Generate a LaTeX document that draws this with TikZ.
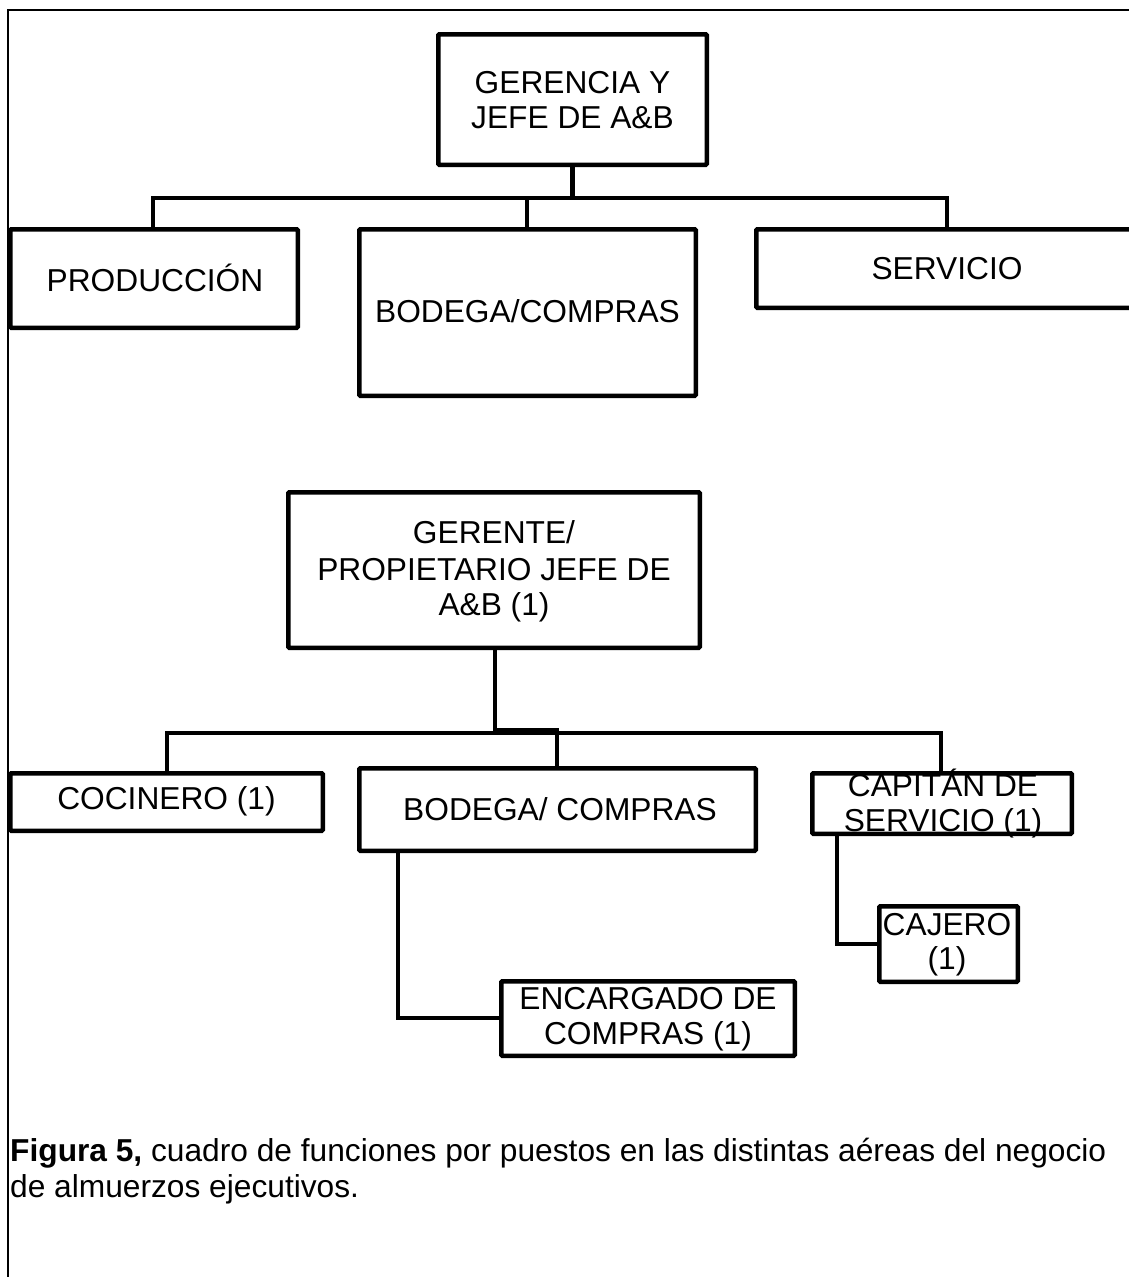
\documentclass[tikz,border=0pt]{standalone}
\usepackage{fontspec}
\setmainfont{Liberation Sans}
\begin{document}
\begin{tikzpicture}[x=1pt,y=-1pt,
  box/.style={draw, line width=4.5pt, inner sep=0pt, rounded corners=1pt},
  txt/.style={font=\fontsize{31.7}{34.5}\selectfont, align=center, inner sep=0pt},
  conn/.style={line width=4.5pt, line join=miter},
  frame/.style={line width=2pt}]
\useasboundingbox (0,0) rectangle (1129,1277);
\clip (0,0) rectangle (1129,1277);
\fill[white] (0,0) rectangle (1129,1277);
\draw[frame] (8,10) rectangle (1160,1300);

% ---------- first chart ----------
\node[box, minimum width=268.5pt, minimum height=130.5pt] (ger1) at (572.5,99.5) {};
\node[txt] (ger1t) at (572.5,100) {GERENCIA Y\\JEFE DE A\&B};
\node[box, minimum width=287.5pt, minimum height=98.5pt] (prod) at (154,278.5) {};
\node[txt] (prodt) at (155,278) {PRODUCCIÓN};
\node[box, minimum width=336.5pt, minimum height=166.5pt] (bod1) at (527.5,312.5) {};
\node[txt] (bod1t) at (527.5,311) {BODEGA/COMPRAS};
\node[box, minimum width=381.5pt, minimum height=78.5pt] (serv) at (947,268.5) {};
\node[txt] (servt) at (947,269) {SERVICIO};

\coordinate (j1) at (572.5,198);
\coordinate (d1) at (153,198);
\coordinate (d2) at (527,198);
\coordinate (d3) at (947,198);
\draw[conn] (ger1.south) -- (j1);
\draw[conn] (d1 |- prod.north) -- (d1) -- (d3) -- (d3 |- serv.north);
\draw[conn] (d2) -- (d2 |- bod1.north);

% ---------- second chart ----------
\node[box, minimum width=411.5pt, minimum height=155.5pt] (ger2) at (494,570) {};
\node[txt] (ger2t) at (494,571) {GERENTE/\\[3pt]PROPIETARIO JEFE DE\\A\&B (1)};
\node[box, minimum width=312.5pt, minimum height=57.5pt] (coc) at (166.5,802) {};
\node[txt] (coct) at (166.5,801) {COCINERO (1)};
\node[box, minimum width=396.5pt, minimum height=82.5pt] (bod2) at (557.5,809.5) {};
\node[txt] (bod2t) at (560,809) {BODEGA/ COMPRAS};
\node[box, minimum width=259.5pt, minimum height=60.5pt] (cap) at (942,803.5) {};
\node[txt] (capt) at (943,803.5) {CAPITÁN DE\\SERVICIO (1)};
\node[box, minimum width=138.5pt, minimum height=75.5pt] (caj) at (948.5,944) {};
\node[txt] (cajt) at (947,944.5) {CAJERO\\(1)};
\node[box, minimum width=293.5pt, minimum height=74.5pt] (enc) at (648,1018.5) {};
\node[txt] (enct) at (648,1019) {ENCARGADO DE\\COMPRAS (1)};

\coordinate (g2) at (495,730);
\coordinate (g3) at (557,730);
\coordinate (e1) at (167,733);
\coordinate (e2) at (941,733);
\draw[conn] (g2 |- ger2.south) -- (g2) -- (g3) -- (g3 |- bod2.north);
\draw[conn] (e1 |- coc.north) -- (e1) -- (e2) -- (e2 |- cap.north);
\coordinate (k1) at (398,1018);
\coordinate (k2) at (837,944);
\draw[conn] (k1 |- bod2.south) -- (k1) -- (k1 -| enc.west);
\draw[conn] (k2 |- cap.south) -- (k2) -- (k2 -| caj.west);

% ---------- caption ----------
\node[font=\fontsize{31.7}{36}\selectfont, align=left, inner sep=0pt, anchor=base west] (cap5) at (10,1197)
  {\textbf{Figura 5,} cuadro de funciones por puestos en las distintas aéreas del negocio\\de almuerzos ejecutivos.};
\end{tikzpicture}
\end{document}
